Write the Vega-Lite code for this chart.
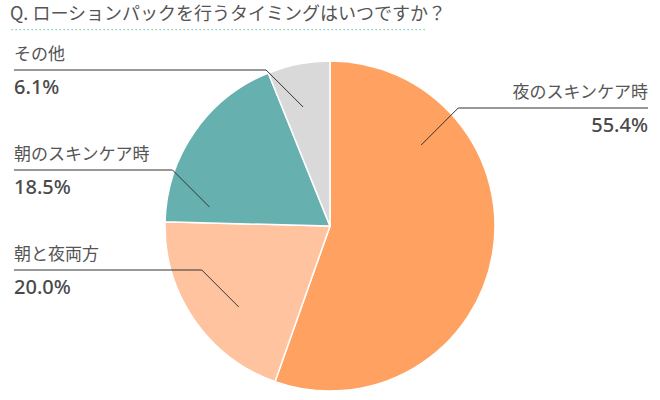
{
  "$schema": "https://vega.github.io/schema/vega-lite/v6.json",
  "width": 660,
  "height": 350,
  "padding": {"top": 6, "left": 0, "right": 0, "bottom": 0},
  "background": "#ffffff",
  "title": {
    "text": "Q. ローションパックを行うタイミングはいつですか？",
    "subtitle": "　　････････････････････････････････････････････････････････････････････････････････････････････････････････",
    "anchor": "start",
    "frame": "group",
    "dx": 10,
    "font": "Noto Sans CJK JP",
    "fontSize": 18,
    "fontWeight": "normal",
    "color": "#555555",
    "subtitleFont": "Noto Sans CJK JP",
    "subtitleFontSize": 8,
    "subtitleColor": "#5dbcb0",
    "subtitlePadding": 3,
    "offset": 11
  },
  "datasets": {
    "answers": [
      {"category": "夜のスキンケア時", "pct": 55.4},
      {"category": "朝と夜両方", "pct": 20.0},
      {"category": "朝のスキンケア時", "pct": 18.5},
      {"category": "その他", "pct": 6.1}
    ]
  },
  "data": {"name": "answers"},
  "transform": [
    {"window": [{"op": "sum", "field": "pct", "as": "cum"}], "frame": [null, 0]},
    {"calculate": "datum.cum - datum.pct", "as": "start"},
    {"calculate": "datum.cum - datum.pct / 2", "as": "mid"},
    {"calculate": "datum.mid > 50 ? 'left' : 'right'", "as": "side"},
    {"calculate": "datum.side == 'left' ? -1 : 1", "as": "sgn"},
    {"calculate": "datum.sgn * datum.mid", "as": "skey"},
    {"window": [{"op": "row_number", "as": "rk"}], "groupby": ["side"], "sort": [{"field": "skey", "order": "ascending"}]},
    {"calculate": "(datum.side == 'left' ? -156 : -118) + 100 * (datum.rk - 1)", "as": "ey"},
    {"calculate": "datum.ey + 37", "as": "iy"},
    {"calculate": "datum.sgn * sqrt(122 * 122 - datum.iy * datum.iy)", "as": "ix"},
    {"calculate": "datum.ix + datum.sgn * 37", "as": "ex"},
    {"calculate": "datum.side == 'left' ? -316 : 318", "as": "lx"},
    {"calculate": "format(datum.pct, '.1f') + '%'", "as": "pctLabel"}
  ],
  "layer": [
    {
      "mark": {"type": "arc", "radius": 165, "stroke": "#ffffff", "strokeWidth": 1.5},
      "encoding": {
        "theta": {"field": "start", "type": "quantitative", "stack": null, "scale": {"domain": [0, 100]}},
        "theta2": {"field": "cum"},
        "color": {
          "field": "category",
          "type": "nominal",
          "scale": {
            "domain": ["夜のスキンケア時", "朝と夜両方", "朝のスキンケア時", "その他"],
            "range": ["#ffa261", "#ffc49f", "#67b0b0", "#d9d9d9"]
          },
          "legend": null
        },
        "x": {"datum": 0, "type": "quantitative", "scale": {"domain": [-330, 330], "nice": false, "zero": false}, "axis": null},
        "y": {"datum": 0, "type": "quantitative", "scale": {"domain": [-175, 175], "nice": false, "zero": false, "reverse": true}, "axis": null}
      }
    },
    {
      "mark": {"type": "rule", "color": "#333333", "strokeWidth": 1},
      "encoding": {
        "x": {"field": "ix", "type": "quantitative", "scale": {"domain": [-330, 330], "nice": false, "zero": false}, "axis": null},
        "y": {"field": "iy", "type": "quantitative", "scale": {"domain": [-175, 175], "nice": false, "zero": false, "reverse": true}, "axis": null},
        "x2": {"field": "ex"},
        "y2": {"field": "ey"}
      }
    },
    {
      "mark": {"type": "rule", "color": "#333333", "strokeWidth": 1},
      "encoding": {
        "x": {"field": "ex", "type": "quantitative", "scale": {"domain": [-330, 330], "nice": false, "zero": false}, "axis": null},
        "x2": {"field": "lx"},
        "y": {"field": "ey", "type": "quantitative", "scale": {"domain": [-175, 175], "nice": false, "zero": false, "reverse": true}, "axis": null}
      }
    },
    {
      "transform": [{"filter": "datum.side == 'left'"}],
      "mark": {"type": "text", "align": "left", "baseline": "alphabetic", "dy": -10, "font": "Noto Sans CJK JP", "fontSize": 17, "color": "#555555"},
      "encoding": {
        "x": {"field": "lx", "type": "quantitative", "scale": {"domain": [-330, 330], "nice": false, "zero": false}, "axis": null},
        "y": {"field": "ey", "type": "quantitative", "scale": {"domain": [-175, 175], "nice": false, "zero": false, "reverse": true}, "axis": null},
        "text": {"field": "category"}
      }
    },
    {
      "transform": [{"filter": "datum.side == 'right'"}],
      "mark": {"type": "text", "align": "right", "baseline": "alphabetic", "dy": -10, "font": "Noto Sans CJK JP", "fontSize": 17, "color": "#555555"},
      "encoding": {
        "x": {"field": "lx", "type": "quantitative", "scale": {"domain": [-330, 330], "nice": false, "zero": false}, "axis": null},
        "y": {"field": "ey", "type": "quantitative", "scale": {"domain": [-175, 175], "nice": false, "zero": false, "reverse": true}, "axis": null},
        "text": {"field": "category"}
      }
    },
    {
      "transform": [{"filter": "datum.side == 'left'"}],
      "mark": {"type": "text", "align": "left", "baseline": "alphabetic", "dy": 24, "font": "Noto Sans", "fontSize": 20, "fontWeight": 500, "color": "#4a4a4a"},
      "encoding": {
        "x": {"field": "lx", "type": "quantitative", "scale": {"domain": [-330, 330], "nice": false, "zero": false}, "axis": null},
        "y": {"field": "ey", "type": "quantitative", "scale": {"domain": [-175, 175], "nice": false, "zero": false, "reverse": true}, "axis": null},
        "text": {"field": "pctLabel"}
      }
    },
    {
      "transform": [{"filter": "datum.side == 'right'"}],
      "mark": {"type": "text", "align": "right", "baseline": "alphabetic", "dy": 24, "font": "Noto Sans", "fontSize": 20, "fontWeight": 500, "color": "#4a4a4a"},
      "encoding": {
        "x": {"field": "lx", "type": "quantitative", "scale": {"domain": [-330, 330], "nice": false, "zero": false}, "axis": null},
        "y": {"field": "ey", "type": "quantitative", "scale": {"domain": [-175, 175], "nice": false, "zero": false, "reverse": true}, "axis": null},
        "text": {"field": "pctLabel"}
      }
    }
  ],
  "config": {
    "view": {"stroke": null}
  }
}
